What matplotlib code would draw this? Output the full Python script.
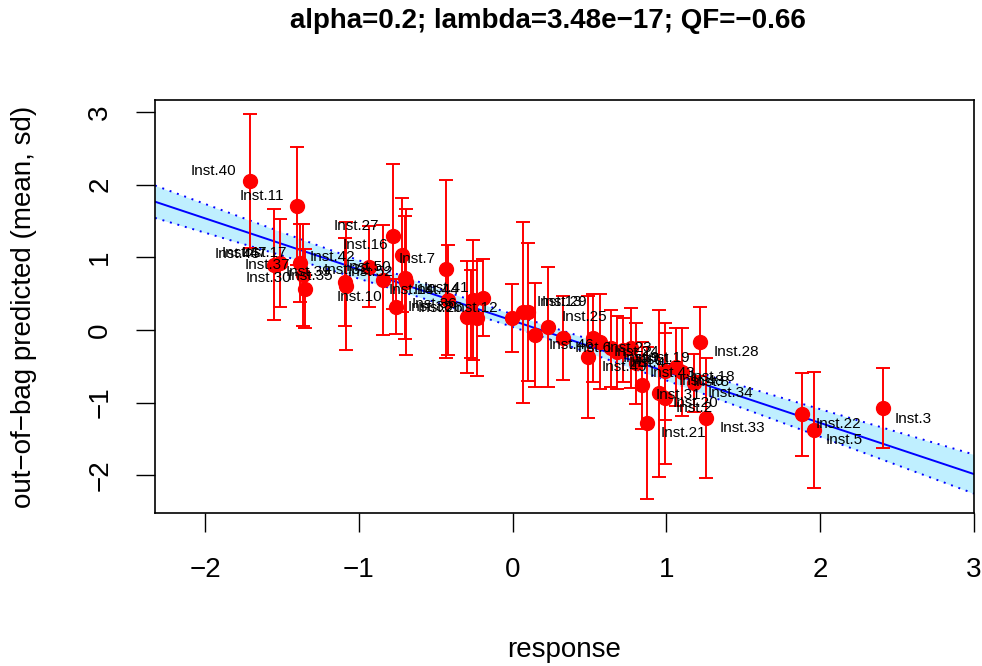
import matplotlib
matplotlib.use("Agg")
import matplotlib.pyplot as plt
import numpy as np

plt.rcParams["font.family"] = ["Liberation Sans", "DejaVu Sans"]

# response, out-of-bag predicted mean and sd per instance
labels = ["Inst.40", "Inst.11", "Inst.45", "Inst.47", "Inst.17", "Inst.37", "Inst.30",
          "Inst.39", "Inst.35", "Inst.42", "Inst.32", "Inst.27", "Inst.16", "Inst.50",
          "Inst.52", "Inst.10", "Inst.7", "Inst.14", "Inst.44", "Inst.41", "Inst.38",
          "Inst.36", "Inst.26", "Inst.12", "Inst.13", "Inst.29", "Inst.46", "Inst.25",
          "Inst.6", "Inst.49", "Inst.23", "Inst.24", "Inst.9", "Inst.4", "Inst.1",
          "Inst.19", "Inst.43", "Inst.31", "Inst.21", "Inst.20", "Inst.2", "Inst.48",
          "Inst.18", "Inst.8", "Inst.34", "Inst.28", "Inst.33", "Inst.22", "Inst.5",
          "Inst.3"]
response = [-1.705, -1.40, -1.55, -1.51, -1.38, -1.36, -1.35,
            -1.09, -1.08, -0.935, -0.84, -0.78, -0.72, -0.70,
            -0.69, -0.76, -0.43, -0.42, -0.26, -0.19, -0.295,
            -0.27, -0.23, -0.005, 0.07, 0.10, 0.146, 0.227,
            0.33, 0.49, 0.52, 0.57, 0.64, 0.68, 0.72,
            0.77, 0.80, 0.84, 0.875, 0.95, 0.99, 0.99,
            1.06, 1.10, 1.18, 1.22, 1.26, 1.88, 1.96,
            2.41]
pred_mean = [2.05, 1.71, 0.90, 0.92, 0.92, 0.76, 0.57,
             0.66, 0.60, 0.87, 0.69, 1.29, 1.03, 0.72,
             0.66, 0.32, 0.84, 0.41, 0.41, 0.44, 0.18,
             0.22, 0.16, 0.16, 0.24, 0.25, -0.07, 0.04,
             -0.11, -0.37, -0.11, -0.16, -0.25, -0.31, -0.28,
             -0.25, -0.46, -0.76, -1.28, -0.87, -0.94, -0.57,
             -0.51, -0.58, -0.73, -0.16, -1.21, -1.16, -1.38,
             -1.08]
pred_sd = [0.92, 0.81, 0.77, 0.61, 0.54, 0.70, 0.55,
           0.60, 0.88, 0.56, 0.76, 1.00, 0.78, 0.85,
           1.00, 0.38, 1.22, 0.76, 0.83, 0.53, 0.77,
           0.60, 0.79, 0.47, 1.25, 0.95, 0.72, 0.82,
           0.58, 0.84, 0.60, 0.66, 0.53, 0.50, 0.44,
           0.55, 0.56, 0.60, 1.05, 1.15, 0.90, 0.67,
           0.54, 0.60, 0.40, 0.48, 0.83, 0.57, 0.80,
           0.55]

title = "alpha=0.2; lambda=3.48e\u221217; QF=\u22120.66"
T_QUANT = 2.01  # t(0.975, n-2) for n = 50

x = np.array(response)
y = np.array(pred_mean)
sd = np.array(pred_sd)

fig = plt.figure(figsize=(9.82, 6.66), dpi=100)
ax = fig.add_axes([155 / 982, 1 - 513 / 666, 819 / 982, 413 / 666])
xlim = (-2.325, 3.0)
ax.set_xlim(*xlim)
ax.set_ylim(-2.52, 3.165)

# linear fit with confidence band
n = len(x)
slope, icpt = np.polyfit(x, y, 1)
resid = y - (icpt + slope * x)
s = np.sqrt(np.sum(resid ** 2) / (n - 2))
sxx = np.sum((x - x.mean()) ** 2)
xg = np.linspace(xlim[0], xlim[1], 200)
fit = icpt + slope * xg
hw = T_QUANT * s * np.sqrt(1 / n + (xg - x.mean()) ** 2 / sxx)
ax.fill_between(xg, fit - hw, fit + hw, color="#BFEFFF", lw=0, zorder=1)
ax.plot(xg, fit, color="blue", lw=1.4, zorder=2)
ax.plot(xg, fit + hw, color="blue", lw=1.4, ls=(0, (1, 3)), zorder=2)
ax.plot(xg, fit - hw, color="blue", lw=1.4, ls=(0, (1, 3)), zorder=2)

ax.errorbar(x, y, yerr=sd, fmt="o", color="red", ms=10, elinewidth=1.4,
            capsize=5, capthick=1.4, zorder=3)

# labels placed like calibrate::textxy (offset 0.8 in adj units)
texts = []
for lab, xi, yi in zip(labels, x, y):
    ha = "left" if xi >= 0 else "right"
    va = "bottom" if yi >= 0 else "top"
    t = ax.annotate(lab, (xi, yi), xytext=(0, 0), textcoords="offset points",
                    ha=ha, va=va, fontsize=11, color="black", zorder=4)
    texts.append((t, xi, yi))
fig.canvas.draw()
r = fig.canvas.get_renderer()
for t, xi, yi in texts:
    bb = t.get_window_extent(r)
    w = bb.width * 72 / fig.dpi
    h = bb.height * 72 / fig.dpi * 0.75
    dx = 0.3 * w if xi >= 0 else -0.3 * w
    dy = 0.3 * h if yi >= 0 else -0.3 * h
    t.xyann = (dx, dy)

ax.set_xticks([-2, -1, 0, 1, 2, 3])
ax.set_yticks([-2, -1, 0, 1, 2, 3])
ax.tick_params(direction="out", length=14, width=1, labelsize=20)
ax.tick_params(axis="x", pad=18)
ax.tick_params(axis="y", pad=16)
for lab in ax.get_yticklabels():
    lab.set_rotation(90)
    lab.set_va("center")
for sp in ax.spines.values():
    sp.set_linewidth(1.2)

fig.text(548 / 982, 1 - 21 / 666, title, ha="center", va="center",
         fontsize=20, fontweight="bold")
fig.text(564 / 982, 1 - 650 / 666, "response", ha="center", va="center", fontsize=20)
fig.text(24 / 982, 1 - 307 / 666, "out\u2212of\u2212bag predicted (mean, sd)",
         ha="center", va="center", rotation=90, fontsize=20)

fig.savefig("out.png", dpi=100)
